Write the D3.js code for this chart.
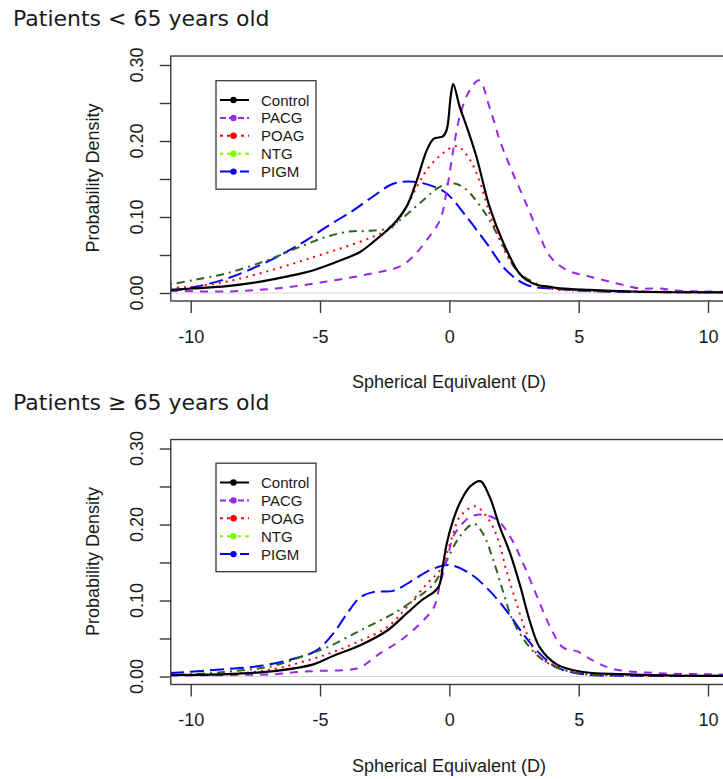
<!DOCTYPE html>
<html>
<head>
<meta charset="utf-8">
<script src="https://cdn.jsdelivr.net/npm/d3@7"></script>
<style>
  body { margin: 0; background: #fff; }
  svg { display: block; }
  .tick-label, .axis-title, .legend-label { font-family: "Liberation Sans", Arial, sans-serif; fill: #1a1a1a; }
  .panel-title { font-family: "DejaVu Sans", Verdana, sans-serif; fill: #1a1a1a; }
</style>
</head>
<body>
<div class="chart"></div>
<script>
"use strict";

// group names + legend
var groups = ["Control", "PACG", "POAG", "NTG", "PIGM"];
var panelTitles = ["Patients < 65 years old", "Patients \u2265 65 years old"];
var xTicks = [-10, -5, 0, 5, 10];
var yTicks = [0, 0.05, 0.10, 0.15, 0.20, 0.25, 0.30];
var yTickLabels = ["0.00", "", "0.10", "", "0.20", "", "0.30"];

// densities, [spherical equivalent, density]
// patients < 65
var youngControl = [[-10.8,0.004],[-9.9,0.006],[-8.6,0.009],[-7.3,0.015],[-6.3,0.0215],[-5.25,0.030],[-4.2,0.043],[-3.45,0.054],[-2.95,0.067],[-2.2,0.089],[-1.65,0.114],[-1.25,0.149],[-0.87,0.188],[-0.6,0.203],[-0.25,0.206],[-0.1,0.215],[0.05,0.258],[0.15,0.275],[0.4,0.245],[0.67,0.219],[1.05,0.179],[1.55,0.114],[2.1,0.065],[2.7,0.026],[3.0,0.017],[3.4,0.0105],[3.9,0.008],[4.3,0.006],[5.4,0.004],[7,0.002],[9,0.001],[12,0.001]];
var youngPACG = [[-10.8,0.003],[-8.6,0.002],[-6.7,0.006],[-4.75,0.015],[-2.95,0.026],[-1.9,0.035],[-1.4,0.048],[-0.87,0.070],[-0.36,0.096],[-0.1,0.135],[0.15,0.188],[0.4,0.232],[0.73,0.263],[1.15,0.280],[1.55,0.245],[1.95,0.201],[2.35,0.166],[2.85,0.127],[3.4,0.083],[3.9,0.048],[4.55,0.030],[5.45,0.0215],[6.45,0.0128],[7.35,0.006],[8.1,0.006],[8.9,0.003],[10,0.002],[12,0.001]];
var youngPOAG = [[-10.8,0.007],[-9.9,0.0083],[-8.6,0.015],[-7.3,0.026],[-6.0,0.039],[-5.0,0.050],[-4.0,0.061],[-2.95,0.074],[-2.2,0.087],[-1.65,0.114],[-1.25,0.140],[-0.87,0.162],[-0.25,0.184],[0.3,0.193],[0.8,0.175],[1.2,0.144],[1.55,0.105],[1.95,0.070],[2.35,0.043],[3.0,0.017],[3.9,0.006],[5,0.003],[7,0.002],[12,0.001]];
var youngNTG = [[-10.8,0.0114],[-9.9,0.017],[-8.6,0.026],[-7.05,0.043],[-5.75,0.061],[-4.75,0.074],[-3.85,0.081],[-3.2,0.0816],[-2.4,0.085],[-1.9,0.096],[-1.15,0.118],[-0.35,0.140],[0.2,0.144],[0.67,0.1355],[1.2,0.114],[1.55,0.096],[2.1,0.061],[2.6,0.030],[3.5,0.0105],[4.8,0.004],[7,0.002],[12,0.001]];
var youngPIGM = [[-10.8,0.003],[-9.9,0.0075],[-8.6,0.019],[-7.3,0.037],[-6.3,0.054],[-5.5,0.070],[-4.75,0.087],[-3.7,0.109],[-2.95,0.127],[-2.15,0.144],[-1.4,0.1465],[-0.6,0.140],[-0.1,0.131],[0.67,0.100],[1.45,0.065],[2.2,0.030],[3.0,0.0105],[4.3,0.005],[6,0.002],[12,0.001]];

// patients >= 65
var oldControl = [[-10.8,0.002],[-8.6,0.003],[-6.7,0.0075],[-5.25,0.016],[-4.5,0.027],[-3.45,0.041],[-2.4,0.0605],[-1.65,0.083],[-1.0,0.102],[-0.6,0.111],[-0.4,0.119],[-0.23,0.150],[-0.1,0.175],[0.15,0.206],[0.4,0.228],[0.8,0.250],[1.2,0.257],[1.55,0.237],[1.95,0.197],[2.35,0.162],[2.75,0.118],[3.1,0.074],[3.5,0.038],[4.15,0.016],[5.05,0.0066],[6.7,0.003],[9,0.001],[12,0.001]];
var oldPACG = [[-10.8,0.001],[-8.6,0.002],[-6.8,0.003],[-5.8,0.006],[-5.0,0.0075],[-4.0,0.0085],[-3.45,0.012],[-2.7,0.030],[-1.9,0.047],[-1.15,0.069],[-0.6,0.091],[-0.36,0.122],[-0.1,0.153],[0.15,0.184],[0.4,0.197],[0.8,0.210],[1.3,0.213],[1.85,0.206],[2.35,0.184],[2.85,0.149],[3.4,0.1045],[3.9,0.065],[4.4,0.038],[4.95,0.033],[5.55,0.021],[6.35,0.0098],[8,0.0045],[10,0.003],[12,0.002]];
var oldPOAG = [[-10.8,0.002],[-8.6,0.003],[-6.8,0.0098],[-5.5,0.021],[-4.5,0.032],[-3.45,0.047],[-2.4,0.065],[-1.65,0.091],[-0.87,0.122],[-0.36,0.140],[-0.1,0.162],[0.15,0.188],[0.4,0.210],[1.0,0.224],[1.45,0.210],[1.85,0.184],[2.2,0.140],[2.6,0.096],[3.0,0.056],[3.5,0.025],[4.55,0.0098],[5.9,0.003],[12,0.001]];
var oldNTG = [[-10.8,0.002],[-9.9,0.003],[-8.2,0.0075],[-6.8,0.014],[-5.65,0.027],[-4.75,0.038],[-3.7,0.056],[-2.95,0.069],[-2.15,0.083],[-1.4,0.100],[-0.6,0.122],[-0.1,0.153],[0.4,0.184],[0.95,0.201],[1.3,0.188],[1.7,0.153],[2.1,0.109],[2.45,0.074],[3.0,0.043],[3.65,0.021],[4.8,0.005],[7,0.002],[12,0.001]];
var oldPIGM = [[-10.8,0.0045],[-8.6,0.0098],[-7.3,0.014],[-6.05,0.023],[-5.15,0.034],[-4.5,0.056],[-3.95,0.083],[-3.45,0.104],[-2.95,0.111],[-2.15,0.113],[-1.4,0.127],[-0.75,0.140],[0.0,0.1465],[0.8,0.1355],[1.55,0.113],[2.2,0.087],[2.85,0.056],[3.5,0.030],[4.15,0.012],[5.2,0.003],[7,0.001],[12,0.001]];

var panelData = [
  [youngControl, youngPACG, youngPOAG, youngNTG, youngPIGM],
  [oldControl, oldPACG, oldPOAG, oldNTG, oldPIGM]
];

// line styles, R-ish lty at lwd 2
var lineColors = ["#000000", "#9A26EE", "#FF0000", "#2F6420", "#0000FF"];
var legendColors = ["#000000", "#9A26EE", "#FF0000", "#7CFC00", "#0000FF"];
var dashes = [null, "8,7", "2,5", "2,5,8,5", "14,6"];
var legendDashes = [null, "6,3", "3,4", "3,4,7,4", "14,6"];

var width = 723;
var height = 779;
var panelShift = 383.5;

var svg = d3.select('.chart')
            .append('svg')
            .attr('width', width)
            .attr('height', height);

var x = d3.scaleLinear().domain([-10, 10]).range([190.7, 708]);

function drawPanel(p) {
  var off = p * panelShift;
  var y = d3.scaleLinear().domain([0, 0.3]).range([293 + off, 65 + off]);
  var g = svg.append('g');

  var boxL = x(-10.77), boxR = x(12.5);
  var boxT = y(0.3118), boxB = y(-0.0105);

  g.append('text')
   .attr('class', 'panel-title')
   .attr('x', 13)
   .attr('y', 26 + off)
   .style('font-size', '22px')
   .text(panelTitles[p]);

  var clipId = 'clip' + p;
  g.append('clipPath').attr('id', clipId)
   .append('rect')
   .attr('x', boxL).attr('y', boxT)
   .attr('width', boxR - boxL).attr('height', boxB - boxT);

  // faint zero line
  g.append('line')
   .attr('x1', boxL).attr('x2', boxR)
   .attr('y1', y(0)).attr('y2', y(0))
   .attr('stroke', '#d4d4d4').attr('stroke-width', 1);

  var line = d3.line()
               .x(function(d) { return x(d[0]) })
               .y(function(d) { return y(Math.max(d[1], 0)) })
               .curve(d3.curveCatmullRom.alpha(0.5));

  // draw back to front, control last
  var order = [4, 3, 2, 1, 0];
  g.append('g').attr('clip-path', 'url(#' + clipId + ')')
   .selectAll('path')
   .data(order)
   .enter().append('path')
   .attr('d', function(i) { return line(panelData[p][i]) })
   .attr('fill', 'none')
   .attr('stroke', function(i) { return lineColors[i] })
   .attr('stroke-width', function(i) { return i === 0 ? 2.2 : 2 })
   .attr('stroke-dasharray', function(i) { return dashes[i] });

  // box
  g.append('rect')
   .attr('x', boxL).attr('y', boxT)
   .attr('width', boxR - boxL).attr('height', boxB - boxT)
   .attr('fill', 'none').attr('stroke', '#3a3a3a').attr('stroke-width', 1.4);

  // x axis
  var xAxis = d3.axisBottom(x).tickValues(xTicks).tickSize(12).tickPadding(17)
                .tickFormat(d3.format('d'));
  var xg = g.append('g')
            .attr('transform', 'translate(0,' + boxB + ')')
            .call(xAxis);
  xg.select('.domain').remove();
  xg.selectAll('line').attr('stroke', '#3a3a3a').attr('stroke-width', 1.4);
  xg.selectAll('text')
    .attr('class', 'tick-label')
    .style('font-size', '18px')
    .attr('fill', '#1a1a1a')
    .text(function(d) { return d < 0 ? '-' + Math.abs(d) : d });

  // y axis, labels rotated like R
  var yAxis = d3.axisLeft(y).tickValues(yTicks).tickSize(11).tickFormat('');
  var yg = g.append('g')
            .attr('transform', 'translate(' + boxL + ',0)')
            .call(yAxis);
  yg.select('.domain').remove();
  yg.selectAll('line').attr('stroke', '#3a3a3a').attr('stroke-width', 1.4);

  g.selectAll('.ylab')
   .data(yTicks.filter(function(d, i) { return yTickLabels[i] !== '' }))
   .enter().append('text')
   .attr('class', 'tick-label')
   .attr('text-anchor', 'middle')
   .style('font-size', '18px')
   .attr('transform', function(d) { return 'translate(143,' + y(d) + ') rotate(-90)' })
   .text(function(d) { return yTickLabels[yTicks.indexOf(d)] });

  g.append('text')
   .attr('class', 'axis-title')
   .attr('text-anchor', 'middle')
   .style('font-size', '18px')
   .attr('transform', 'translate(99,' + (178 + off) + ') rotate(-90)')
   .text('Probability Density');

  g.append('text')
   .attr('class', 'axis-title')
   .attr('text-anchor', 'middle')
   .style('font-size', '18px')
   .attr('x', 449)
   .attr('y', 388 + off)
   .text('Spherical Equivalent (D)');

  // legend
  var lg = g.append('g').attr('transform', 'translate(216,' + (80.7 + off - p * 1) + ')');
  lg.append('rect')
    .attr('width', 100).attr('height', 108.5)
    .attr('fill', '#fff').attr('stroke', '#3a3a3a').attr('stroke-width', 1.3);

  var rows = lg.selectAll('.row')
               .data(groups)
               .enter().append('g')
               .attr('transform', function(d, i) { return 'translate(0,' + (19.3 + i * 17.9) + ')' });
  rows.append('line')
      .attr('x1', 4).attr('x2', 33)
      .attr('stroke', function(d, i) { return legendColors[i] })
      .attr('stroke-width', 2)
      .attr('stroke-dasharray', function(d, i) { return legendDashes[i] });
  rows.append('circle')
      .attr('cx', 17.5).attr('r', 3.2)
      .attr('fill', function(d, i) { return legendColors[i] });
  rows.append('text')
      .attr('class', 'legend-label')
      .attr('x', 45).attr('y', 5.5)
      .style('font-size', '15px')
      .text(function(d) { return d });
}

drawPanel(0);
drawPanel(1);
</script>
</body>
</html>
